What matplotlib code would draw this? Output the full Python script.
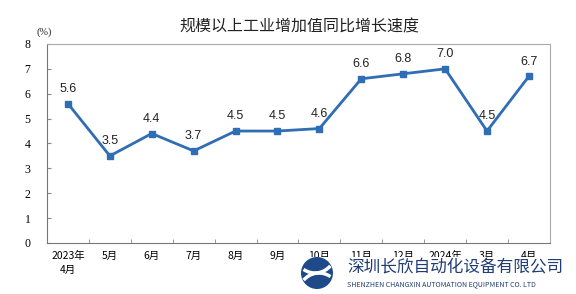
import matplotlib
matplotlib.use("Agg")
import matplotlib.pyplot as plt
from matplotlib.patches import Circle, Rectangle, Arc

plt.rcParams['font.family'] = ['Noto Sans CJK SC', 'DejaVu Sans']

#data
months = ["2023年\n4月", "5月", "6月", "7月", "8月", "9月", "10月", "11月", "12月",
          "2024年\n1-2月", "3月", "4月"]
growth = [5.6, 3.5, 4.4, 3.7, 4.5, 4.5, 4.6, 6.6, 6.8, 7.0, 4.5, 6.7]
yticks = [0, 1, 2, 3, 4, 5, 6, 7, 8]

title = "规模以上工业增加值同比增长速度"
company_cn = "深圳长欣自动化设备有限公司"
company_en = "SHENZHEN CHANGXIN AUTOMATION EQUIPMENT CO. LTD"

line_col = "#2F6DB5"

fig = plt.figure(figsize=(5.76, 2.94), dpi=100)
ax = fig.add_axes([0.0816, 0.1735, 0.873, 0.677])

x = list(range(len(growth)))
ax.plot(x, growth, color=line_col, lw=2, marker="s", ms=4, zorder=3)
for xi, v in zip(x, growth):
    ax.text(xi, v + 0.35, f"{v:.1f}", ha="center", va="bottom",
            fontsize=9, family="Liberation Sans", color="#222222")

ax.set_xlim(-0.5, len(growth) - 0.5)
ax.set_ylim(0, 8)
ax.set_yticks(yticks)
ax.set_yticklabels([str(t) for t in yticks], fontsize=8.5, family="Liberation Serif")
ax.set_xticks(x)
ax.set_xticklabels(months, fontsize=7.5, linespacing=1.5)
ax.set_xticks([i + 0.5 for i in x[:-1]], minor=True)
ax.tick_params(axis="x", which="major", length=0, pad=6)
ax.tick_params(axis="x", which="minor", direction="in", length=3, color="#888888")
ax.tick_params(axis="y", direction="in", length=3, color="#888888", pad=12)

ax.spines["left"].set_color("#777777")
ax.spines["bottom"].set_color("#777777")
ax.spines["top"].set_color("#AAAAAA")
ax.spines["right"].set_color("#AAAAAA")

fig.text(0.52, 0.908, title, ha="center", va="center", fontsize=11.5, color="#222222")
fig.text(0.077, 0.892, "(%)", ha="center", va="center", fontsize=7.5,
         family="Liberation Serif", color="#222222")

# watermark overlay (pixel positions -> inches)
fig.patches.append(Rectangle((0.515, 0.0), 0.485, 0.125, transform=fig.transFigure,
                             facecolor="white", edgecolor="none", zorder=5))
cx, cy = 3.17, 0.21
fig.patches.append(Circle((cx, cy), 0.16, transform=fig.dpi_scale_trans,
                          facecolor="#1E4A8A", edgecolor="none", zorder=6))
fig.patches.append(Arc((cx - 0.02, cy + 0.2), 0.4, 0.4, theta1=235, theta2=320,
                       transform=fig.dpi_scale_trans, color="white", lw=2.5, zorder=7))
fig.patches.append(Arc((cx + 0.02, cy - 0.2), 0.4, 0.4, theta1=55, theta2=140,
                       transform=fig.dpi_scale_trans, color="white", lw=2.5, zorder=7))
fig.text(347 / 576, 1 - 268 / 294, company_cn, ha="left", va="center", fontsize=12,
         color="#1F3C73", zorder=7)
fig.text(347 / 576, 1 - 284 / 294, company_en, ha="left", va="center", fontsize=5,
         color="#1F3C73", zorder=7)

fig.savefig("out.png", dpi=100)
